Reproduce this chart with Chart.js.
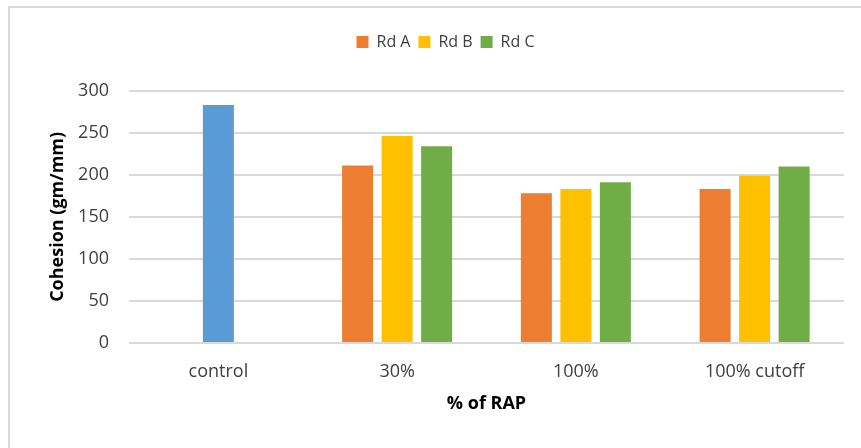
<!DOCTYPE html>
<html>
<head>
<meta charset="utf-8">
<title>Cohesion by % of RAP</title>
<script src="https://cdn.jsdelivr.net/npm/chart.js@4.4.1/dist/chart.umd.min.js"></script>
<style>
  html, body { margin: 0; padding: 0; background: #ffffff; }
  #wrap { width: 861px; height: 448px; }
</style>
</head>
<body>
<div id="wrap"><canvas id="chart" width="861" height="448"></canvas></div>
<script>
// Categories along the x axis
const categories = ['control', '30%', '100%', '100% cutoff'];

// Cohesion values (gm/mm) for each road
const rdA = [null, 211, 178, 183];
const rdB = [283, 246, 183, 199];
const rdC = [null, 234, 191, 210];

// Y axis ticks
const yTicks = [0, 50, 100, 150, 200, 250, 300];

const seriesNames = ['Rd A', 'Rd B', 'Rd C'];
const seriesColors = ['#ED7D31', '#FFC000', '#70AD47'];
const controlColor = '#5B9BD5';

const FONT = "'Open Sans', 'Liberation Sans', sans-serif";

// Light frame around the chart
const framePlugin = {
  id: 'frame',
  beforeDraw(chart) {
    const ctx = chart.ctx;
    ctx.save();
    ctx.fillStyle = '#ffffff';
    ctx.fillRect(0, 0, chart.width, chart.height);
    ctx.fillStyle = '#d9d9d9';
    ctx.fillRect(8, 6, chart.width - 8, 2);
    ctx.fillRect(8, 6, 2, chart.height - 6);
    ctx.restore();
  }
};

new Chart(document.getElementById('chart'), {
  type: 'bar',
  data: {
    labels: categories,
    datasets: [
      { label: seriesNames[0], data: rdA, backgroundColor: seriesColors[0] },
      {
        label: seriesNames[1],
        data: rdB,
        // the control bar sits in the middle slot, drawn in blue
        backgroundColor: categories.map((c, i) => i === 0 ? controlColor : seriesColors[1])
      },
      { label: seriesNames[2], data: rdC, backgroundColor: seriesColors[2] }
    ]
  },
  options: {
    responsive: false,
    devicePixelRatio: 1,
    animation: false,
    categoryPercentage: 0.663,
    barPercentage: 0.785,
    layout: { padding: { top: 26, left: 47, right: 17, bottom: 33 } },
    plugins: {
      legend: {
        position: 'top',
        labels: {
          boxWidth: 12,
          boxHeight: 12,
          padding: 8,
          color: '#404040',
          font: { family: FONT, size: 16 },
          generateLabels(chart) {
            const items = Chart.defaults.plugins.legend.labels.generateLabels(chart);
            items.forEach((it, i) => {
              it.fillStyle = seriesColors[i];
              it.strokeStyle = seriesColors[i];
              it.lineWidth = 0;
            });
            return items;
          }
        }
      },
      subtitle: {
        display: true,
        text: '',
        weight: 500,
        font: { size: 10 },
        padding: { top: 18.7, bottom: 0 }
      },
      tooltip: { enabled: false }
    },
    scales: {
      x: {
        afterFit(scale) { scale.height = 72; },
        grid: { display: false },
        border: { display: false },
        ticks: {
          color: '#404040',
          padding: 10,
          font: { family: FONT, size: 18 }
        },
        title: {
          display: true,
          text: '% of RAP',
          color: '#000000',
          padding: { top: 0, bottom: 0 },
          font: { family: FONT, size: 18, weight: 'bold' }
        }
      },
      y: {
        min: yTicks[0],
        max: yTicks[yTicks.length - 1],
        afterBuildTicks(scale) {
          scale.ticks = yTicks.map(v => ({ value: v }));
        },
        afterFit(scale) { scale.width = 82; },
        grid: { color: '#d9d9d9', lineWidth: 2, drawTicks: false },
        border: { display: false },
        ticks: {
          color: '#404040',
          padding: 20,
          font: { family: FONT, size: 18 }
        },
        title: {
          display: true,
          text: 'Cohesion (gm/mm)',
          color: '#000000',
          padding: { top: 0, bottom: 0 },
          font: { family: FONT, size: 18, weight: 'bold' }
        }
      }
    }
  },
  plugins: [framePlugin]
});
</script>
</body>
</html>
